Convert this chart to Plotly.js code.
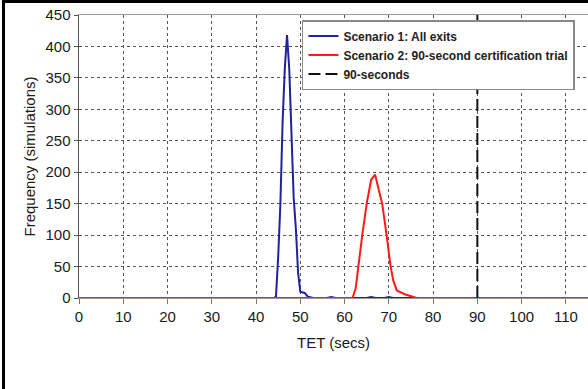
<!DOCTYPE html>
<html>
<head>
<meta charset="utf-8">
<script src="https://cdn.plot.ly/plotly-3.0.1.min.js"></script>
<style>
  html, body { margin: 0; padding: 0; background: #fff; }
  #wrap { position: relative; width: 588px; height: 389px; }
  #chart { width: 588px; height: 389px; }
  #frame { position: absolute; left: 2px; top: 0; width: 590px; height: 400px;
           border-top: 3px solid #000; border-left: 3px solid #000; pointer-events: none; }
</style>
</head>
<body>
<div id="wrap">
  <div id="chart"></div>
  <div id="frame"></div>
</div>
<script>
// Scenario 1: All exits
const tetBlue  = [0, 44, 44.5, 45, 45.5, 46, 46.5, 47, 47.5, 48, 48.5, 49, 49.5, 50, 51, 51.7, 53, 56, 57, 58, 65, 66, 67, 69, 70, 71, 115];
const freqBlue = [0, 0, 2, 65, 150, 280, 365, 418, 365, 250, 160, 110, 40, 10, 8, 2, 0, 0, 1.5, 0, 0, 1.5, 0, 0, 1.5, 0, 0];
// Scenario 2: 90-second certification trial
const tetRed  = [0, 61.8, 62.5, 63, 64, 65, 66, 66.9, 67.5, 68.5, 69.5, 70.4, 71, 71.8, 73.6, 75.1, 76.3, 115];
const freqRed = [0, 0, 15, 45, 100, 150, 188, 196, 180, 150, 100, 50, 28, 12, 6, 3, 0, 0];
// 90-second limit
const limitX = [90, 90];
const limitY = [0, 450];

const seriesNames = ['Scenario 1: All exits', 'Scenario 2: 90-second certification trial', '90-seconds'];
const xTicks = [0, 10, 20, 30, 40, 50, 60, 70, 80, 90, 100, 110];
const yTicks = [0, 50, 100, 150, 200, 250, 300, 350, 400, 450];

const traces = [
  { x: tetBlue, y: freqBlue, mode: 'lines', name: seriesNames[0],
    line: { color: '#22229a', width: 2 } },
  { x: tetRed, y: freqRed, mode: 'lines', name: seriesNames[1],
    line: { color: '#ff1a1a', width: 2 } },
  { x: limitX, y: limitY, mode: 'lines', name: seriesNames[2],
    line: { color: '#111', width: 2, dash: '12px,5px' } }
];

const font = 'Arial, "Liberation Sans", sans-serif';
const layout = {
  width: 588, height: 389,
  margin: { l: 79, r: 0, t: 15, b: 91 },
  paper_bgcolor: '#fff', plot_bgcolor: '#fff',
  showlegend: true,
  font: { family: font, size: 15, color: '#1a1a1a' },
  xaxis: {
    range: [0, 115], tickvals: xTicks, ticktext: xTicks.map(String),
    showgrid: true, gridcolor: '#555', gridwidth: 1, griddash: 'dot',
    showline: true, mirror: true, linecolor: '#999', linewidth: 1,
    ticks: 'outside', ticklen: 5, tickcolor: '#777',
    zeroline: false, tickfont: { size: 15, family: font, color: '#1a1a1a' },
    title: { text: 'TET (secs)', font: { size: 15, family: font, color: '#1a1a1a' }, standoff: 13 }
  },
  yaxis: {
    range: [0, 450], tickvals: yTicks, ticktext: yTicks.map(String),
    showgrid: true, gridcolor: '#555', gridwidth: 1, griddash: 'dot',
    showline: true, linecolor: '#555', linewidth: 1.5,
    ticks: 'outside', ticklen: 4, tickcolor: '#555',
    zeroline: false, tickfont: { size: 15, family: font, color: '#1a1a1a' },
    title: { text: 'Frequency (simulations)', font: { size: 15, family: font, color: '#1a1a1a' }, standoff: 6 }
  },
  legend: {
    x: 0.438, y: 0.982, xanchor: 'left', yanchor: 'top',
    bgcolor: '#fff', bordercolor: '#888', borderwidth: 1.5,
    font: { size: 12, family: font, color: '#222', weight: 'bold' },
    tracegroupgap: 0
  }
};

Plotly.newPlot('chart', traces, layout, { displayModeBar: false, staticPlot: true });
</script>
</body>
</html>
